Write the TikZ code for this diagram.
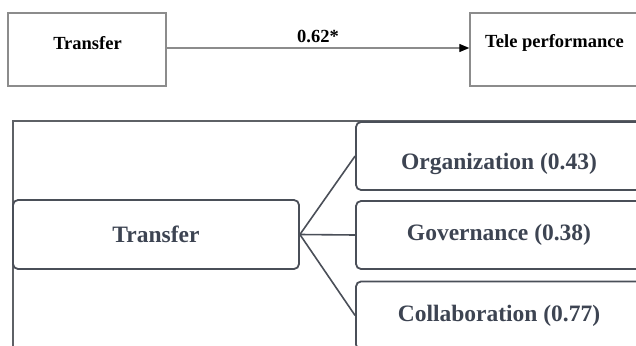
\documentclass[tikz,border=0pt]{standalone}
\usepackage{fontspec}
\setmainfont{Liberation Serif}
\usetikzlibrary{arrows.meta}
\definecolor{thinline}{HTML}{8C8C8C}
\definecolor{frameline}{HTML}{5E6166}
\definecolor{boxline}{HTML}{4A4F58}
\definecolor{slate}{HTML}{3D4452}
\tikzset{
  x=1pt, y=-1pt,
  plainbox/.style={draw=thinline, line width=1.4pt, fill=white, inner sep=0pt},
  plaintext/.style={font=\fontsize{18.5}{20}\selectfont\bfseries, text=black, inner sep=0pt},
  roundbox/.style={draw=boxline, line width=1.8pt, fill=white, rounded corners=5pt,
    inner sep=0pt, font=\fontsize{23.5}{26}\selectfont\bfseries, text=slate},
  branch/.style={draw=boxline, line width=1.6pt},
}
\begin{document}
\begin{tikzpicture}
\useasboundingbox (0,0) rectangle (636,345);
\clip (0,0) rectangle (636,345);
\fill[white] (0,0) rectangle (636,345);

% direct effect model
\node[plainbox, minimum width=158pt, minimum height=73pt] (tA) at (87,49.5) {};
\node[plainbox, minimum width=180pt, minimum height=73pt] (tB) at (560,49.5) {};
\node[plaintext] (tAt) at (87.5,43) {Transfer};
\node[plaintext] (tBt) at (554.5,43) {Tele performance};
\draw[thinline, line width=1.3pt, -{Triangle[length=10pt,width=8pt,color=black]}]
  (tA.east |- 0,48) -- (tB.west |- 0,48)
  node[midway, above=5pt, plaintext] (coef) {0.62*};

% dimensions of transfer
\draw[frameline, line width=2pt] (13,350) -- (13,121) -- (650,121);
\node[roundbox, minimum width=286pt, minimum height=69pt] (tr) at (156,234.5) {Transfer};
\node[roundbox, minimum width=286pt, minimum height=68pt, text height=26pt, text depth=0pt]
  (org) at (499,156) {Organization (0.43)};
\node[roundbox, minimum width=286pt, minimum height=68pt] (gov) at (499,235) {Governance (0.38)};
\node[roundbox, minimum width=286pt, minimum height=68pt] (col) at (499,315.5) {Collaboration (0.77)};
\draw[branch] (tr.east) -- (org.west);
\draw[branch] (tr.east) -- (gov.west);
\draw[branch] (tr.east) -- (col.west);
\end{tikzpicture}
\end{document}
